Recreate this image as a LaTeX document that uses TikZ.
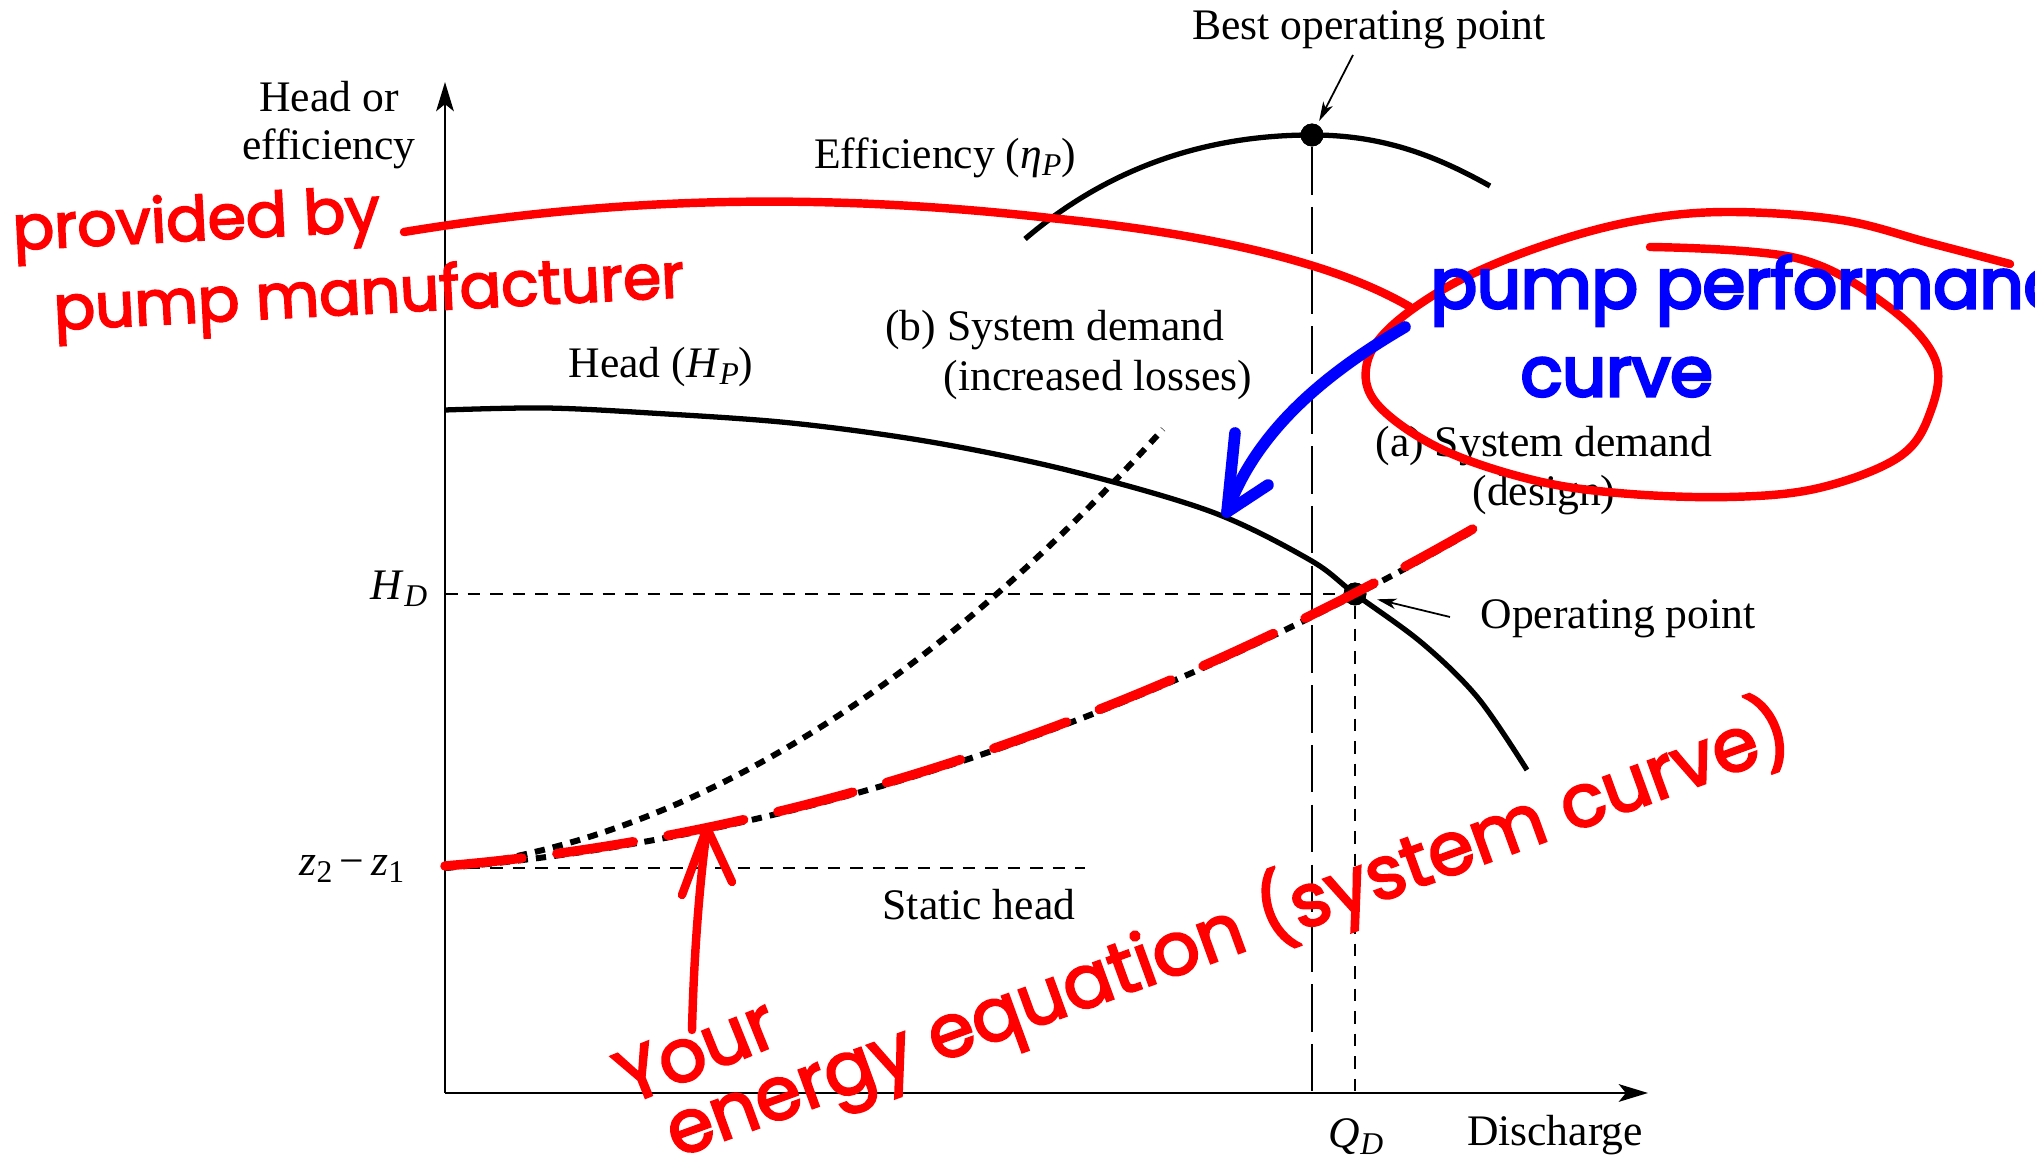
\documentclass[tikz,border=0pt]{standalone}
\usepackage{fontspec}
\setmainfont{Liberation Serif}
\newfontfamily\handfont{Poppins}[FakeBold=3]
\newfontfamily\bluehandfont{Poppins}[FakeBold=4.5]
\usetikzlibrary{arrows.meta}
\newcommand\lowsub[1]{\raisebox{-0.35ex}{\fontsize{9}{9}\selectfont #1}}
\begin{document}
\begin{tikzpicture}[x=0.01cm, y=-0.01cm,
  lbl/.style={font=\fontsize{12.4}{14}\selectfont, inner sep=0pt},
  axisline/.style={line width=0.8pt, -{Stealth[length=8.3pt, width=5pt, inset=2pt]}},
  curveline/.style={line width=1.5pt},
  demand/.style={line width=1.7pt, dash pattern=on 2.9pt off 2.3pt},
  guide/.style={line width=0.75pt, dash pattern=on 3.6pt off 2.8pt},
  longguide/.style={line width=0.6pt, dash pattern=on 13.5pt off 3.5pt},
  dot/.style={circle, fill=black, inner sep=0pt, minimum size=6.5pt},
  pointer/.style={line width=0.5pt, -{Stealth[length=5.5pt, width=3pt, inset=1.5pt]}},
  redink/.style={draw=red, line width=2.4pt, line cap=round, line join=round},
  blueink/.style={draw=blue, line width=3.3pt, line cap=round, line join=round},
  redhand/.style={font=\handfont\fontsize{17.5}{20}\selectfont, text=red, inner sep=0pt},
  bighand/.style={font=\handfont\fontsize{21}{24}\selectfont, text=red, inner sep=0pt},
  bluehand/.style={font=\bluehandfont\fontsize{19.5}{22}\selectfont, text=blue, inner sep=0pt},
]
\useasboundingbox (0,0) rectangle (2035,1165);
\clip (0,0) rectangle (2035,1165);

% axes
\coordinate (O) at (445,1093);
\coordinate (ytop) at (445,82);
\coordinate (xend) at (1648,1093);
\draw[axisline] (O) -- (ytop);
\draw[axisline] (O) -- (xend);

% key points
\node[dot] (bop) at (1312,135) {};
\node[dot] (op) at (1355,594) {};
\coordinate (qd) at (1355,1093);
\coordinate (qbest) at (1312,1093);
\coordinate (hd) at (445,594);
\coordinate (zs) at (445,868);
\coordinate (zsEnd) at (1085,868);

% guide lines
\draw[longguide] (bop) -- (qbest);
\draw[guide] (hd) -- (op);
\draw[guide] (op) -- (qd);
\draw[guide] (zs) -- (zsEnd);

% efficiency curve
\draw[curveline] (1025,239) .. controls (1108,168) and (1205,135) .. (bop.center)
  .. controls (1385,135) and (1438,157) .. (1490,186);

% head curve
\draw[curveline] plot[smooth, tension=0.55] coordinates {(445,410) (545,408) (650,413) (791,423) (931,442) (1071,471) (1212,512) (1310,560) (1355,594) (1422,643) (1478,698) (1527,770)};

% system demand curves: (a) design, (b) increased losses
\draw[demand] plot[domain=0:10.25, samples=60] ({445+100*\x},{868-8.41*\x-2.372*\x*\x});
\draw[demand] plot[domain=0:7.18, samples=50] ({445+100*\x},{868-11.6*\x-6.897*\x*\x});

\node[dot] at (bop) {};
\node[dot] at (op) {};

% labels
\node[lbl, anchor=base] (yl1) at (329,112) {Head or};
\node[lbl, anchor=base] (yl2) at (329,160) {efficiency};
\node[lbl, anchor=base] (boplbl) at (1369,40) {Best operating point};
\node[lbl, anchor=base] (efflbl) at (945,169) {Efficiency (\textit{η}\lowsub{\textit{P}})};
\node[lbl, anchor=base] (hplbl) at (661,378) {Head (\textit{H}\lowsub{\textit{P}})};
\node[lbl, anchor=base] (bl1) at (1055,341) {(b) System demand};
\node[lbl, anchor=base] (bl2) at (1098,391) {(increased losses)};
\node[lbl, anchor=base] (al1) at (1544,457) {(a) System demand};
\node[lbl, anchor=base] (al2) at (1544,506) {(design)};
\node[lbl, anchor=base east] (hdlbl) at (428,600) {\textit{H}\lowsub{\textit{D}}};
\node[lbl, anchor=base east] (zlbl) at (405,876) {\textit{z}\lowsub{2}\,−\,\textit{z}\lowsub{1}};
\node[lbl, anchor=base] (statlbl) at (979,920) {Static head};
\node[lbl, anchor=base] (oplbl) at (1618,629) {Operating point};
\node[lbl, anchor=base] (qdlbl) at (1356,1148) {\textit{Q}\lowsub{\textit{D}}};
\node[lbl, anchor=base] (dislbl) at (1555,1146) {Discharge};

% pointers
\coordinate (bopTail) at (1353,55);
\coordinate (opTail) at (1450,617);
\draw[pointer, shorten >=1pt] (bopTail) -- (bop);
\draw[pointer, shorten >=3pt] (opTail) -- (op);

% red annotations
\draw[redink, line width=2.7pt, dash pattern=on 22pt off 10pt] plot[domain=0:10.58, samples=60] ({445+100*\x},{866-8.41*\x-2.372*\x*\x});
\node[redhand, anchor=base west, rotate=3] (prov) at (13,250) {provided by};
\node[redhand, anchor=base west, rotate=3] (manuf) at (54,330) {pump manufacturer};
\coordinate (provEnd) at (404,232);
\coordinate (loopIn) at (1410,307);
\draw[redink] (provEnd) .. controls (600,200) and (800,190) .. (1050,218)
  .. controls (1200,233) and (1330,260) .. (loopIn);
\draw[redink] plot[smooth, tension=0.6] coordinates {(1650,247) (1796,258) (1886,305) (1935,359) (1930,413) (1899,457) (1819,488) (1729,497) (1618,493) (1529,479) (1439,448) (1377,404) (1367,363) (1395,323) (1462,279) (1551,243) (1640,220) (1729,212) (1841,220) (1930,243) (2010,264)};

\node[bighand, anchor=base west, rotate=22] (your) at (628,1105) {Your};
\node[bighand, anchor=base west, rotate=20] (eq) at (676,1158) {energy equation (system curve)};
\coordinate (yourTail) at (692,1030);
\coordinate (yourTip) at (707,828);
\draw[redink] (yourTail) .. controls (694,950) and (700,880) .. (yourTip);
\draw[redink] (682,895) -- (yourTip) -- (732,882);

% blue annotations
\node[bluehand, anchor=base west] (pumpperf) at (1430,308) {pump performance};
\node[bluehand, anchor=base west] (curvelbl) at (1520,396) {curve};
\coordinate (blueTail) at (1405,327);
\coordinate (blueTip) at (1227,512);
\draw[blueink] (blueTail) .. controls (1335,368) and (1258,425) .. (blueTip);
\draw[blueink] (1235,433) -- (blueTip) -- (1268,485);
\end{tikzpicture}
\end{document}
